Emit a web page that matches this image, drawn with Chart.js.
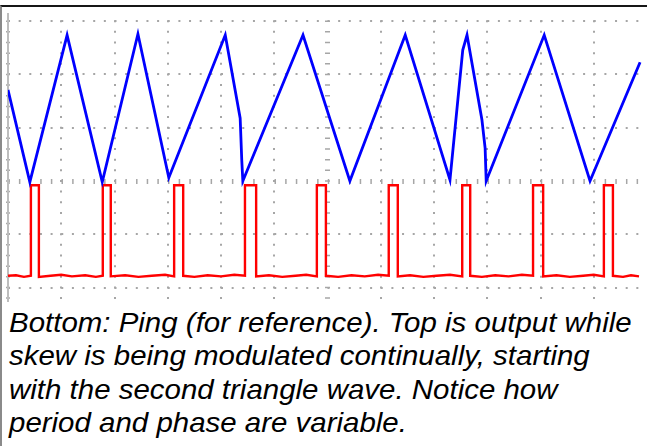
<!DOCTYPE html>
<html>
<head>
<meta charset="utf-8">
<script src="https://cdn.jsdelivr.net/npm/chart.js@4.4.0/dist/chart.umd.min.js"></script>
<style>
  html, body { margin: 0; padding: 0; background: #fff; width: 647px; height: 446px; overflow: hidden; }
  #frame { position: absolute; left: 0; top: 5px; width: 645px; height: 439px; border-top: 2px solid #161616; border-left: 2px solid #8a8a8a; }
  #scope { position: absolute; left: 0; top: 0; }
  #caption { position: absolute; left: 9px; top: 306px; font: italic 28px "Liberation Sans", Arial, sans-serif; line-height: 33.4px; color: #000; white-space: nowrap; transform: scaleX(1.052); transform-origin: 0 0; }
</style>
</head>
<body>
<div id="frame">
  <canvas id="scope" width="645" height="295"></canvas>
</div>
<div id="caption">Bottom: Ping (for reference). Top is output while<br>skew is being modulated continually, starting<br>with the second triangle wave. Notice how<br>period and phase are variable.</div>
<script>
// scope grid: 12 horizontal divisions, center line at y = 0
const xMin = 0;
const xMax = 12;
const yMin = -2.272;
const yMax = 3.136;

// top trace (output), in divisions
const blueX = [0, 0.41, 1.11, 1.77, 2.44, 3.02, 4.08, 4.36, 4.39, 4.41, 5.54, 6.42, 7.46, 8.30, 8.54, 8.62, 8.90, 8.96, 8.98, 10.07, 10.93, 11.87];
const blueY = [1.71, -0.02, 2.74, -0.02, 2.76, 0.06, 2.74, 1.18, 0.39, 0.0, 2.74, 0.0, 2.74, 0.02, 2.46, 2.74, 1.15, 0.62, 0.0, 2.74, 0.0, 2.23];

// bottom trace (ping), in divisions
const redX = [0, 0.15, 0.3, 0.43, 0.43, 0.58, 0.58, 0.8, 1.0, 1.2, 1.45, 1.65, 1.78, 1.78, 1.93, 1.93, 2.2, 2.45, 2.7, 2.95, 3.12, 3.12, 3.29, 3.29,
  3.5, 3.75, 4.0, 4.25, 4.45, 4.45, 4.66, 4.66, 4.9, 5.15, 5.4, 5.6, 5.8, 5.8, 5.97, 5.97, 6.2, 6.45, 6.7, 6.95, 7.15, 7.15, 7.32, 7.32,
  7.55, 7.8, 8.05, 8.3, 8.53, 8.53, 8.68, 8.68, 8.9, 9.15, 9.4, 9.65, 9.86, 9.86, 10.05, 10.05, 10.3, 10.55, 10.8, 11.0, 11.19, 11.19, 11.36, 11.36,
  11.55, 11.7, 11.85];
const redY = [-1.78, -1.77, -1.80, -1.78, -0.08, -0.08, -1.80, -1.78, -1.76, -1.79, -1.77, -1.80, -1.78, -0.08, -0.08, -1.79, -1.77, -1.80, -1.78, -1.76, -1.79, -0.08, -0.08, -1.78,
  -1.80, -1.77, -1.79, -1.76, -1.78, -0.08, -0.08, -1.79, -1.77, -1.80, -1.78, -1.76, -1.79, -0.08, -0.08, -1.78, -1.80, -1.77, -1.79, -1.76, -1.78, -0.08, -0.08, -1.79,
  -1.77, -1.80, -1.78, -1.76, -1.79, -0.08, -0.08, -1.78, -1.80, -1.77, -1.79, -1.76, -1.78, -0.08, -0.08, -1.79, -1.77, -1.80, -1.78, -1.76, -1.79, -0.08, -0.08, -1.78,
  -1.80, -1.77, -1.79];

const toPoints = (xs, ys) => xs.map((x, i) => ({x: x, y: ys[i]}));

const gridGray = '#a6a6a6';
const minor = 10.65; // one fifth of a division in px

new Chart(document.getElementById('scope'), {
  type: 'line',
  data: {
    datasets: [{
      label: 'Output',
      data: toPoints(blueX, blueY),
      borderColor: '#0000ff',
      borderWidth: 2.8,
      pointRadius: 0,
      tension: 0
    }, {
      label: 'Ping',
      data: toPoints(redX, redY),
      borderColor: '#ff0000',
      borderWidth: 2.4,
      pointRadius: 0,
      tension: 0
    }]
  },
  options: {
    responsive: false,
    animation: false,
    layout: { padding: { left: 6, top: 7, right: 0, bottom: 0 } },
    plugins: { legend: { display: false }, tooltip: { enabled: false } },
    scales: {
      x: {
        type: 'linear',
        min: xMin,
        max: xMax,
        ticks: { display: false, stepSize: 1 },
        grid: {
          drawTicks: false,
          color: function(ctx) {
            if (ctx.tick && ctx.tick.value === xMax) return 'rgba(0,0,0,0)';
            return gridGray;
          },
          lineWidth: function(ctx) {
            if (!ctx.tick) return 2;
            if (ctx.tick.value === 6) return 5;
            if (ctx.tick.value === 0) return 4;
            return 2;
          }
        },
        border: {
          display: false,
          dash: function(ctx) {
            if (ctx.tick && (ctx.tick.value === 6 || ctx.tick.value === 0)) return [1.5, minor - 1.5];
            return [2, minor - 2];
          },
          dashOffset: function(ctx) {
            if (ctx.tick && (ctx.tick.value === 6 || ctx.tick.value === 0)) return 4.2;
            return 4.45;
          }
        }
      },
      y: {
        min: yMin,
        max: yMax,
        ticks: { display: false, stepSize: 1, includeBounds: false },
        grid: {
          drawTicks: false,
          color: gridGray,
          lineWidth: function(ctx) {
            return ctx.tick && ctx.tick.value === 0 ? 5 : 2;
          }
        },
        border: {
          display: true,
          color: '#bdbdbd',
          width: 2,
          dash: function(ctx) {
            if (ctx.tick && ctx.tick.value === 0) return [1.5, minor - 1.5];
            return [2, minor - 2];
          },
          dashOffset: function(ctx) {
            if (ctx.tick && ctx.tick.value === 0) return 0.75;
            return 1;
          }
        }
      }
    }
  }
});
</script>
</body>
</html>
